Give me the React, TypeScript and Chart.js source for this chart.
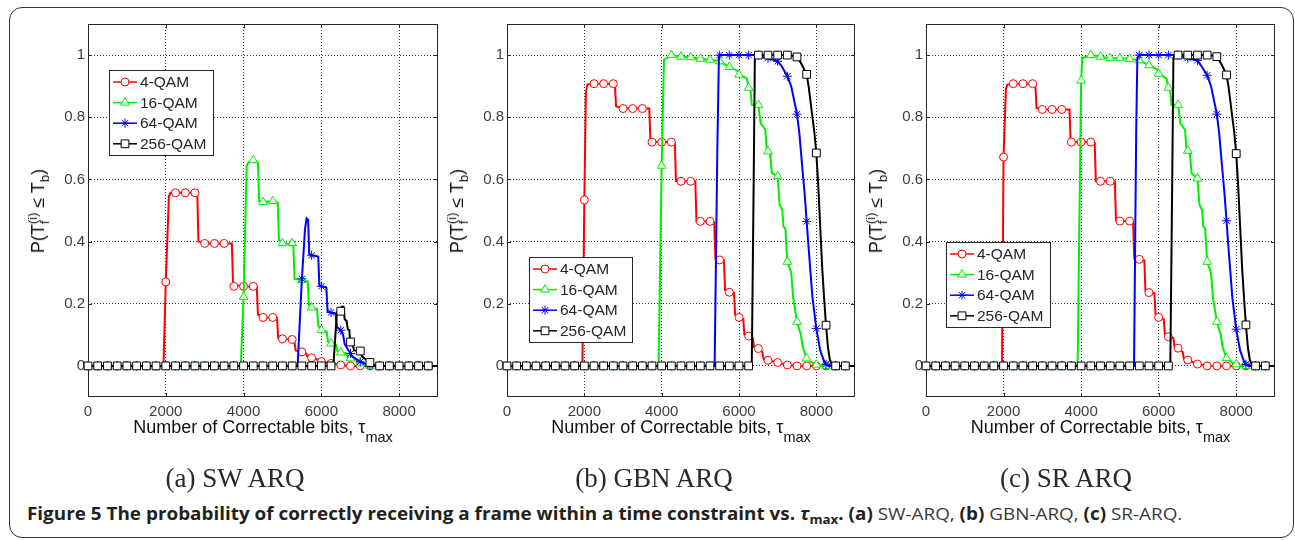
import React, { useEffect, useLayoutEffect, useRef } from 'react';
import { Chart, registerables } from 'chart.js';
import { drawPoint } from 'chart.js/helpers';

Chart.register(...registerables);

// ---- data -------------------------------------------------------------

// τmax values at which the markers of every curve are placed
const MARKER_X = [0, 250, 500, 750, 1000, 1250, 1500, 1750, 2000, 2250, 2500, 2750, 3000, 3250, 3500, 3750, 4000, 4250, 4500, 4750, 5000, 5250, 5500, 5750, 6000, 6250, 6500, 6750, 7000, 7250, 7500, 7750, 8000, 8250, 8500, 8750];
const X_TICKS = [0, 2000, 4000, 6000, 8000];
const Y_TICKS = [0, 0.2, 0.4, 0.6, 0.8, 1];
const SERIES_LABELS = ['4-QAM', '16-QAM', '64-QAM', '256-QAM'];

// (a) SW ARQ — curve vertices [τmax, P] and marker values
const SW_4QAM_LINE = [[0, 0], [1940, 0], [2000, 0.27], [2080, 0.545], [2120, 0.557], [2810, 0.557], [2840, 0.4], [3000, 0.394], [3700, 0.394], [3730, 0.26], [4000, 0.256], [4340, 0.255], [4370, 0.165], [4500, 0.156], [4860, 0.155], [4890, 0.09], [5000, 0.087], [5300, 0.085], [5340, 0.05], [5500, 0.045], [5610, 0.04], [5640, 0.03], [5750, 0.026], [5880, 0.022], [5910, 0.015], [6000, 0.014], [6250, 0.008], [6500, 0.003], [6750, 0], [9000, 0]];
const SW_16QAM_LINE = [[0, 0], [3930, 0], [4000, 0.222], [4080, 0.645], [4130, 0.655], [4250, 0.662], [4370, 0.655], [4400, 0.53], [4500, 0.527], [4750, 0.53], [4880, 0.525], [4910, 0.405], [5000, 0.395], [5280, 0.392], [5310, 0.28], [5500, 0.276], [5650, 0.272], [5680, 0.195], [5750, 0.188], [5890, 0.183], [5920, 0.13], [6000, 0.115], [6140, 0.11], [6170, 0.078], [6250, 0.072], [6380, 0.068], [6410, 0.048], [6500, 0.043], [6650, 0.04], [6680, 0.027], [6750, 0.024], [6900, 0.02], [6930, 0.01], [7000, 0.008], [7250, 0.001], [7350, 0], [9000, 0]];
const SW_64QAM_LINE = [[0, 0], [5390, 0], [5500, 0.28], [5580, 0.44], [5620, 0.475], [5660, 0.47], [5690, 0.36], [5750, 0.356], [5920, 0.352], [5950, 0.26], [6000, 0.256], [6130, 0.252], [6160, 0.175], [6250, 0.172], [6370, 0.168], [6400, 0.125], [6500, 0.115], [6560, 0.1], [6600, 0.07], [6750, 0.04], [6800, 0.03], [7000, 0.013], [7250, 0.002], [7350, 0], [9000, 0]];
const SW_256QAM_LINE = [[0, 0], [6310, 0], [6400, 0.172], [6500, 0.176], [6520, 0.19], [6570, 0.19], [6600, 0.15], [6650, 0.145], [6680, 0.118], [6720, 0.115], [6740, 0.08], [6750, 0.077], [6800, 0.075], [6840, 0.05], [7000, 0.048], [7050, 0.03], [7250, 0.011], [7350, 0.003], [7450, 0], [9000, 0]];
const SW_4QAM_MARKS = [0, 0, 0, 0, 0, 0, 0, 0, 0.27, 0.557, 0.557, 0.557, 0.394, 0.394, 0.394, 0.256, 0.256, 0.256, 0.156, 0.156, 0.087, 0.085, 0.045, 0.026, 0.014, 0.008, 0.003, 0, 0, 0, 0, 0, 0, 0, 0, 0];
const SW_16QAM_MARKS = [0, 0, 0, 0, 0, 0, 0, 0, 0, 0, 0, 0, 0, 0, 0, 0, 0.222, 0.662, 0.527, 0.53, 0.395, 0.395, 0.276, 0.188, 0.115, 0.072, 0.043, 0.024, 0.008, 0.001, 0, 0, 0, 0, 0, 0];
const SW_64QAM_MARKS = [0, 0, 0, 0, 0, 0, 0, 0, 0, 0, 0, 0, 0, 0, 0, 0, 0, 0, 0, 0, 0, 0, 0.28, 0.356, 0.256, 0.172, 0.115, 0.04, 0.013, 0.002, 0, 0, 0, 0, 0, 0];
const SW_256QAM_MARKS = [0, 0, 0, 0, 0, 0, 0, 0, 0, 0, 0, 0, 0, 0, 0, 0, 0, 0, 0, 0, 0, 0, 0, 0, 0, 0, 0.176, 0.077, 0.048, 0.011, 0, 0, 0, 0, 0, 0];

// (b) GBN ARQ
const GBN_4QAM_LINE = [[0, 0], [1950, 0], [2000, 0.534], [2040, 0.88], [2080, 0.905], [2250, 0.908], [2790, 0.908], [2820, 0.835], [3000, 0.828], [3680, 0.828], [3710, 0.72], [4250, 0.72], [4340, 0.718], [4370, 0.595], [4500, 0.594], [4870, 0.594], [4900, 0.465], [5250, 0.465], [5360, 0.462], [5390, 0.345], [5500, 0.341], [5610, 0.34], [5640, 0.244], [5750, 0.237], [5870, 0.235], [5900, 0.165], [6000, 0.156], [6110, 0.15], [6140, 0.1], [6250, 0.096], [6360, 0.09], [6390, 0.06], [6500, 0.056], [6600, 0.045], [6640, 0.02], [6750, 0.018], [7000, 0.011], [7250, 0.003], [7500, 0], [9000, 0]];
const GBN_16QAM_LINE = [[0, 0], [3920, 0], [4000, 0.644], [4060, 0.985], [4250, 1.0], [4500, 0.995], [4750, 0.993], [5000, 0.988], [5250, 0.985], [5500, 0.98], [5700, 0.965], [5750, 0.962], [5950, 0.95], [6000, 0.937], [6200, 0.925], [6250, 0.895], [6300, 0.885], [6330, 0.84], [6500, 0.84], [6560, 0.78], [6680, 0.76], [6720, 0.69], [6800, 0.688], [6850, 0.62], [7000, 0.61], [7050, 0.52], [7120, 0.5], [7150, 0.45], [7200, 0.44], [7250, 0.335], [7350, 0.3], [7400, 0.22], [7500, 0.142], [7600, 0.1], [7650, 0.06], [7750, 0.024], [7900, 0.01], [8000, 0.004], [8150, 0], [9000, 0]];
const GBN_64QAM_LINE = [[0, 0], [5370, 0], [5440, 0.7], [5480, 0.99], [5500, 1.0], [6500, 1.0], [6600, 0.995], [6750, 0.99], [7000, 0.98], [7100, 0.965], [7250, 0.932], [7350, 0.9], [7400, 0.87], [7500, 0.81], [7560, 0.75], [7650, 0.62], [7700, 0.55], [7750, 0.465], [7800, 0.38], [7850, 0.3], [7900, 0.22], [8000, 0.12], [8100, 0.05], [8200, 0.015], [8250, 0.005], [8320, 0], [9000, 0]];
const GBN_256QAM_LINE = [[0, 0], [6330, 0], [6380, 0.6], [6410, 0.99], [6450, 1.0], [7300, 1.0], [7500, 0.994], [7600, 0.975], [7700, 0.95], [7750, 0.938], [7800, 0.9], [7850, 0.85], [7900, 0.8], [7950, 0.75], [8000, 0.685], [8050, 0.58], [8100, 0.45], [8150, 0.32], [8200, 0.22], [8250, 0.131], [8300, 0.06], [8350, 0.02], [8420, 0], [9000, 0]];
const GBN_4QAM_MARKS = [0, 0, 0, 0, 0, 0, 0, 0, 0.534, 0.908, 0.908, 0.908, 0.828, 0.828, 0.828, 0.72, 0.72, 0.72, 0.594, 0.594, 0.465, 0.465, 0.341, 0.237, 0.156, 0.096, 0.056, 0.018, 0.011, 0.003, 0, 0, 0, 0, 0, 0];
const GBN_16QAM_MARKS = [0, 0, 0, 0, 0, 0, 0, 0, 0, 0, 0, 0, 0, 0, 0, 0, 0.644, 1.0, 0.995, 0.993, 0.988, 0.985, 0.98, 0.962, 0.937, 0.895, 0.84, 0.69, 0.61, 0.335, 0.142, 0.024, 0.004, 0, 0, 0];
const GBN_64QAM_MARKS = [0, 0, 0, 0, 0, 0, 0, 0, 0, 0, 0, 0, 0, 0, 0, 0, 0, 0, 0, 0, 0, 0, 1.0, 1.0, 1.0, 1.0, 1.0, 0.99, 0.98, 0.932, 0.81, 0.465, 0.12, 0.005, 0, 0];
const GBN_256QAM_MARKS = [0, 0, 0, 0, 0, 0, 0, 0, 0, 0, 0, 0, 0, 0, 0, 0, 0, 0, 0, 0, 0, 0, 0, 0, 0, 0, 1.0, 1.0, 1.0, 1.0, 0.994, 0.938, 0.685, 0.131, 0, 0];

// (c) SR ARQ
const SR_4QAM_LINE = [[0, 0], [1960, 0], [2000, 0.672], [2060, 0.89], [2100, 0.905], [2250, 0.908], [2820, 0.908], [2850, 0.83], [3000, 0.825], [3700, 0.825], [3730, 0.72], [4250, 0.72], [4350, 0.718], [4380, 0.595], [4500, 0.594], [4870, 0.594], [4900, 0.466], [5250, 0.466], [5340, 0.462], [5370, 0.345], [5500, 0.343], [5630, 0.34], [5660, 0.24], [5750, 0.236], [5890, 0.234], [5920, 0.165], [6000, 0.156], [6130, 0.15], [6160, 0.1], [6250, 0.094], [6380, 0.09], [6410, 0.06], [6500, 0.057], [6620, 0.045], [6650, 0.022], [6750, 0.019], [7000, 0.006], [7250, 0], [9000, 0]];
const SR_16QAM_LINE = [[0, 0], [3910, 0], [4000, 0.918], [4030, 0.99], [4250, 1.0], [4500, 0.995], [4750, 0.99], [5000, 0.99], [5250, 0.988], [5500, 0.983], [5750, 0.967], [5960, 0.955], [6000, 0.94], [6200, 0.925], [6250, 0.895], [6300, 0.885], [6330, 0.84], [6500, 0.84], [6560, 0.78], [6680, 0.76], [6720, 0.692], [6800, 0.69], [6850, 0.62], [7000, 0.603], [7050, 0.52], [7120, 0.5], [7150, 0.45], [7200, 0.44], [7250, 0.335], [7350, 0.3], [7400, 0.22], [7500, 0.142], [7600, 0.1], [7650, 0.06], [7750, 0.025], [7900, 0.01], [8000, 0.005], [8150, 0], [9000, 0]];
const SR_64QAM_LINE = [[0, 0], [5365, 0], [5420, 0.75], [5450, 0.99], [5500, 1.0], [6500, 1.0], [6600, 0.995], [6750, 0.99], [7000, 0.983], [7100, 0.965], [7250, 0.935], [7350, 0.9], [7400, 0.87], [7500, 0.81], [7560, 0.75], [7650, 0.62], [7700, 0.55], [7750, 0.467], [7800, 0.38], [7850, 0.3], [7900, 0.22], [8000, 0.118], [8100, 0.05], [8200, 0.015], [8250, 0.005], [8320, 0], [9000, 0]];
const SR_256QAM_LINE = [[0, 0], [6300, 0], [6350, 0.6], [6380, 0.99], [6420, 1.0], [7300, 1.0], [7500, 0.995], [7600, 0.975], [7700, 0.95], [7750, 0.936], [7800, 0.9], [7850, 0.85], [7900, 0.8], [7950, 0.75], [8000, 0.683], [8050, 0.58], [8100, 0.45], [8150, 0.32], [8200, 0.22], [8250, 0.132], [8300, 0.06], [8350, 0.02], [8420, 0], [9000, 0]];
const SR_4QAM_MARKS = [0, 0, 0, 0, 0, 0, 0, 0, 0.672, 0.908, 0.908, 0.908, 0.825, 0.825, 0.825, 0.72, 0.72, 0.72, 0.594, 0.594, 0.466, 0.466, 0.343, 0.236, 0.156, 0.094, 0.057, 0.019, 0.006, 0, 0, 0, 0, 0, 0, 0];
const SR_16QAM_MARKS = [0, 0, 0, 0, 0, 0, 0, 0, 0, 0, 0, 0, 0, 0, 0, 0, 0.918, 1.0, 0.995, 0.99, 0.99, 0.988, 0.983, 0.967, 0.94, 0.895, 0.84, 0.692, 0.603, 0.335, 0.142, 0.025, 0.005, 0, 0, 0];
const SR_64QAM_MARKS = [0, 0, 0, 0, 0, 0, 0, 0, 0, 0, 0, 0, 0, 0, 0, 0, 0, 0, 0, 0, 0, 0, 1.0, 1.0, 1.0, 1.0, 1.0, 0.99, 0.983, 0.935, 0.81, 0.467, 0.118, 0.005, 0, 0];
const SR_256QAM_MARKS = [0, 0, 0, 0, 0, 0, 0, 0, 0, 0, 0, 0, 0, 0, 0, 0, 0, 0, 0, 0, 0, 0, 0, 0, 0, 0, 1.0, 1.0, 1.0, 1.0, 0.995, 0.936, 0.683, 0.132, 0, 0];

// ---- styling -----------------------------------------------------------

const SERIES_COLORS = ['#ff0000', '#00f000', '#0000ff', '#000000'];
const MARKER_STYLES = ['circle', 'triangle', 'star', 'rect'];
const MARKER_RADII = [4, 5, 4.5, 5.5];
const AXIS_FONT = "'Liberation Sans', Arial, sans-serif";
const TEXT_COLOR = '#262626';
const TICK_COLOR = '#3c3c3c';

const AREA_TOP = 24;
const AREA_BOTTOM = 397;
const PAD_LEFT = 45;
const PAD_RIGHT = 12;
const PAD_TOP = 12;
const PAD_BOTTOM = 28;
const CAPTION_WIDTH = 1155;

type Panel = {
  key: string;
  left: number;
  right: number;
  lines: number[][][];
  marks: number[][];
  legend: { dx: number; dy: number; w: number; h: number };
  caption: string;
  captionX: number;
};

const PANELS: Panel[] = [
  {
    key: 'sw', left: 88, right: 438,
    lines: [SW_4QAM_LINE, SW_16QAM_LINE, SW_64QAM_LINE, SW_256QAM_LINE],
    marks: [SW_4QAM_MARKS, SW_16QAM_MARKS, SW_64QAM_MARKS, SW_256QAM_MARKS],
    legend: { dx: 21, dy: 46, w: 104, h: 85 },
    caption: '(a) SW ARQ', captionX: 235,
  },
  {
    key: 'gbn', left: 507, right: 855,
    lines: [GBN_4QAM_LINE, GBN_16QAM_LINE, GBN_64QAM_LINE, GBN_256QAM_LINE],
    marks: [GBN_4QAM_MARKS, GBN_16QAM_MARKS, GBN_64QAM_MARKS, GBN_256QAM_MARKS],
    legend: { dx: 22, dy: 233, w: 103, h: 85 },
    caption: '(b) GBN ARQ', captionX: 654,
  },
  {
    key: 'sr', left: 926, right: 1275,
    lines: [SR_4QAM_LINE, SR_16QAM_LINE, SR_64QAM_LINE, SR_256QAM_LINE],
    marks: [SR_4QAM_MARKS, SR_16QAM_MARKS, SR_64QAM_MARKS, SR_256QAM_MARKS],
    legend: { dx: 20, dy: 218, w: 104, h: 85 },
    caption: '(c) SR ARQ', captionX: 1066,
  },
];

// Axes box with inward tick marks, plus a boxed legend inside the plot area
const framePlugin = {
  id: 'frameLegend',
  beforeDatasetsDraw(chart: any) {
    const { ctx, chartArea: a, scales } = chart;
    ctx.save();
    ctx.strokeStyle = TEXT_COLOR;
    ctx.lineWidth = 1;
    ctx.strokeRect(a.left + 0.5, a.top + 0.5, a.right - a.left - 1, a.bottom - a.top - 1);
    const tl = 4;
    ctx.beginPath();
    for (const v of X_TICKS) {
      const px = Math.round(scales.x.getPixelForValue(v)) + 0.5;
      ctx.moveTo(px, a.bottom); ctx.lineTo(px, a.bottom - tl);
      ctx.moveTo(px, a.top); ctx.lineTo(px, a.top + tl);
    }
    for (const v of Y_TICKS) {
      const py = Math.round(scales.y.getPixelForValue(v)) + 0.5;
      ctx.moveTo(a.left, py); ctx.lineTo(a.left + tl, py);
      ctx.moveTo(a.right, py); ctx.lineTo(a.right - tl, py);
    }
    ctx.stroke();
    ctx.restore();
  },
  afterDraw(chart: any, _args: any, opts: any) {
    const { ctx, chartArea: a } = chart;
    const bx = Math.round(a.left + opts.dx);
    const by = Math.round(a.top + opts.dy);
    ctx.save();
    ctx.fillStyle = '#ffffff';
    ctx.fillRect(bx, by, opts.w, opts.h);
    ctx.strokeStyle = TEXT_COLOR;
    ctx.lineWidth = 1;
    ctx.strokeRect(bx + 0.5, by + 0.5, opts.w, opts.h);
    SERIES_LABELS.forEach((label, i) => {
      const cy = by + 12 + i * 20.6;
      ctx.strokeStyle = SERIES_COLORS[i];
      ctx.lineWidth = 1.5;
      ctx.beginPath();
      ctx.moveTo(bx + 4, cy);
      ctx.lineTo(bx + 28, cy);
      ctx.stroke();
      ctx.fillStyle = '#ffffff';
      ctx.lineWidth = 1;
      drawPoint(ctx, { pointStyle: MARKER_STYLES[i], radius: MARKER_RADII[i], borderWidth: 1, rotation: 0 } as any, bx + 16, cy);
      ctx.fillStyle = TEXT_COLOR;
      ctx.font = `15.5px ${AXIS_FONT}`;
      ctx.textAlign = 'left';
      ctx.textBaseline = 'middle';
      ctx.fillText(label, bx + 31, cy + 1);
    });
    ctx.restore();
  },
};

function buildConfig(panel: Panel): any {
  const datasets: any[] = [];
  SERIES_LABELS.forEach((label, i) => {
    datasets.push({
      label,
      data: panel.lines[i].map(([x, y]) => ({ x, y })),
      borderColor: SERIES_COLORS[i],
      borderWidth: 2,
      pointRadius: 0,
      tension: 0,
      fill: false,
      order: 20 - 2 * i,
    });
    datasets.push({
      label: label + ' markers',
      data: MARKER_X.map((x, k) => ({ x, y: panel.marks[i][k] })),
      showLine: false,
      borderColor: SERIES_COLORS[i],
      pointStyle: MARKER_STYLES[i],
      pointRadius: MARKER_RADII[i],
      pointBackgroundColor: '#ffffff',
      pointBorderColor: SERIES_COLORS[i],
      pointBorderWidth: 1,
      clip: false,
      order: 19 - 2 * i,
    });
  });

  const tickFont = { family: AXIS_FONT, size: 15 };
  return {
    type: 'line',
    data: { datasets },
    options: {
      animation: false,
      responsive: false,
      maintainAspectRatio: false,
      events: [],
      layout: { padding: { left: 0, right: PAD_RIGHT, top: PAD_TOP, bottom: 0 } },
      plugins: {
        legend: { display: false },
        tooltip: { enabled: false },
        frameLegend: panel.legend,
      },
      scales: {
        x: {
          type: 'linear',
          min: 0,
          max: 9000,
          afterBuildTicks: (s: any) => { s.ticks = X_TICKS.map((value) => ({ value })); },
          afterFit: (s: any) => { s.height = PAD_BOTTOM; },
          grid: { color: '#333333', lineWidth: 1, drawTicks: false },
          border: { display: false, dash: [1, 2] },
          ticks: { padding: 6, color: TICK_COLOR, font: tickFont, maxRotation: 0, autoSkip: false, callback: (v: number) => String(v) },
        },
        y: {
          type: 'linear',
          min: -0.1,
          max: 1.1,
          afterBuildTicks: (s: any) => { s.ticks = Y_TICKS.map((value) => ({ value })); },
          afterFit: (s: any) => { s.width = PAD_LEFT; },
          grid: { color: '#333333', lineWidth: 1, drawTicks: false },
          border: { display: false, dash: [1, 2] },
          ticks: { padding: 3, color: TICK_COLOR, font: tickFont, autoSkip: false, callback: (v: number) => String(v) },
        },
      },
    },
    plugins: [framePlugin],
  };
}

function PlotPanel({ panel }: { panel: Panel }) {
  const ref = useRef<HTMLCanvasElement>(null);
  const width = panel.right - panel.left + PAD_LEFT + PAD_RIGHT;
  const height = AREA_BOTTOM - AREA_TOP + PAD_TOP + PAD_BOTTOM;
  useEffect(() => {
    const chart = new Chart(ref.current as HTMLCanvasElement, buildConfig(panel));
    return () => chart.destroy();
  }, [panel]);

  const midX = (panel.left + panel.right) / 2;
  const midY = (AREA_TOP + AREA_BOTTOM) / 2;
  return (
    <>
      <canvas
        ref={ref}
        width={width}
        height={height}
        style={{ position: 'absolute', left: panel.left - PAD_LEFT, top: AREA_TOP - PAD_TOP, width, height }}
      />
      {/* y-axis title */}
      <div
        style={{
          position: 'absolute', left: panel.left - 49, top: midY,
          transform: 'translate(-50%, -50%) rotate(-90deg)',
          whiteSpace: 'nowrap', font: `18px ${AXIS_FONT}`, lineHeight: '22px', color: '#111',
        }}
      >
        P(T
        <span style={{ display: 'inline-flex', flexDirection: 'column', fontSize: '13px', lineHeight: '12px', verticalAlign: '7px' }}>
          <span>(i)</span>
          <span>f</span>
        </span>
        {' \u2264 T'}
        <span style={{ fontSize: '13px', position: 'relative', top: '5px' }}>b</span>)
      </div>
      {/* x-axis title */}
      <div
        style={{
          position: 'absolute', left: midX, top: 418, transform: 'translateX(-50%)',
          whiteSpace: 'nowrap', font: `18px ${AXIS_FONT}`, lineHeight: '18px', color: '#111',
        }}
      >
        Number of Correctable bits, {'\u03c4'}
        <span style={{ fontSize: '14.5px', position: 'relative', top: '9px', lineHeight: 0 }}>max</span>
      </div>
      {/* sub-figure caption */}
      <div
        style={{
          position: 'absolute', left: panel.captionX, top: 465, transform: 'translateX(-50%)',
          whiteSpace: 'nowrap', font: "27px 'Liberation Serif', 'DejaVu Serif', serif", lineHeight: '27px', color: '#2a2a2a',
        }}
      >
        {panel.caption}
      </div>
    </>
  );
}

function FigureCaption() {
  const ref = useRef<HTMLDivElement>(null);
  // stretch the caption line so it spans the same width as the figure text block
  useLayoutEffect(() => {
    const el = ref.current;
    if (!el) return;
    el.style.transform = 'none';
    const natural = el.scrollWidth;
    if (natural > 0) el.style.transform = `scaleX(${CAPTION_WIDTH / natural})`;
  }, []);
  const bold = { fontWeight: 700, color: '#231f20' } as const;
  const light = { fontWeight: 400, color: '#3a3a3a' } as const;
  return (
    <div
      ref={ref}
      style={{
        position: 'absolute', left: 27, top: 505, whiteSpace: 'nowrap', transformOrigin: 'left center',
        font: "17px 'Open Sans', Lato, sans-serif", lineHeight: '17px',
      }}
    >
      <span style={bold}>
        Figure 5 The probability of correctly receiving a frame within a time constraint vs.{' '}
        <i>{'\u03c4'}</i>
        <span style={{ fontSize: '12px', position: 'relative', top: '4px' }}>max</span>.{' '}
      </span>
      <span style={bold}>(a)</span>
      <span style={light}> SW-ARQ, </span>
      <span style={bold}>(b)</span>
      <span style={light}> GBN-ARQ, </span>
      <span style={bold}>(c)</span>
      <span style={light}> SR-ARQ.</span>
    </div>
  );
}

export default function App() {
  useEffect(() => {
    document.body.style.margin = '0';
    document.body.style.background = '#ffffff';
  }, []);
  return (
    <div style={{ position: 'relative', width: 1295, height: 540, background: '#ffffff', overflow: 'hidden' }}>
      <div
        style={{
          position: 'absolute', left: 9, top: 7, width: 1285, height: 531,
          border: '1.5px solid #333', borderRadius: 13, boxSizing: 'border-box',
        }}
      />
      {PANELS.map((p) => (
        <PlotPanel key={p.key} panel={p} />
      ))}
      <FigureCaption />
    </div>
  );
}
